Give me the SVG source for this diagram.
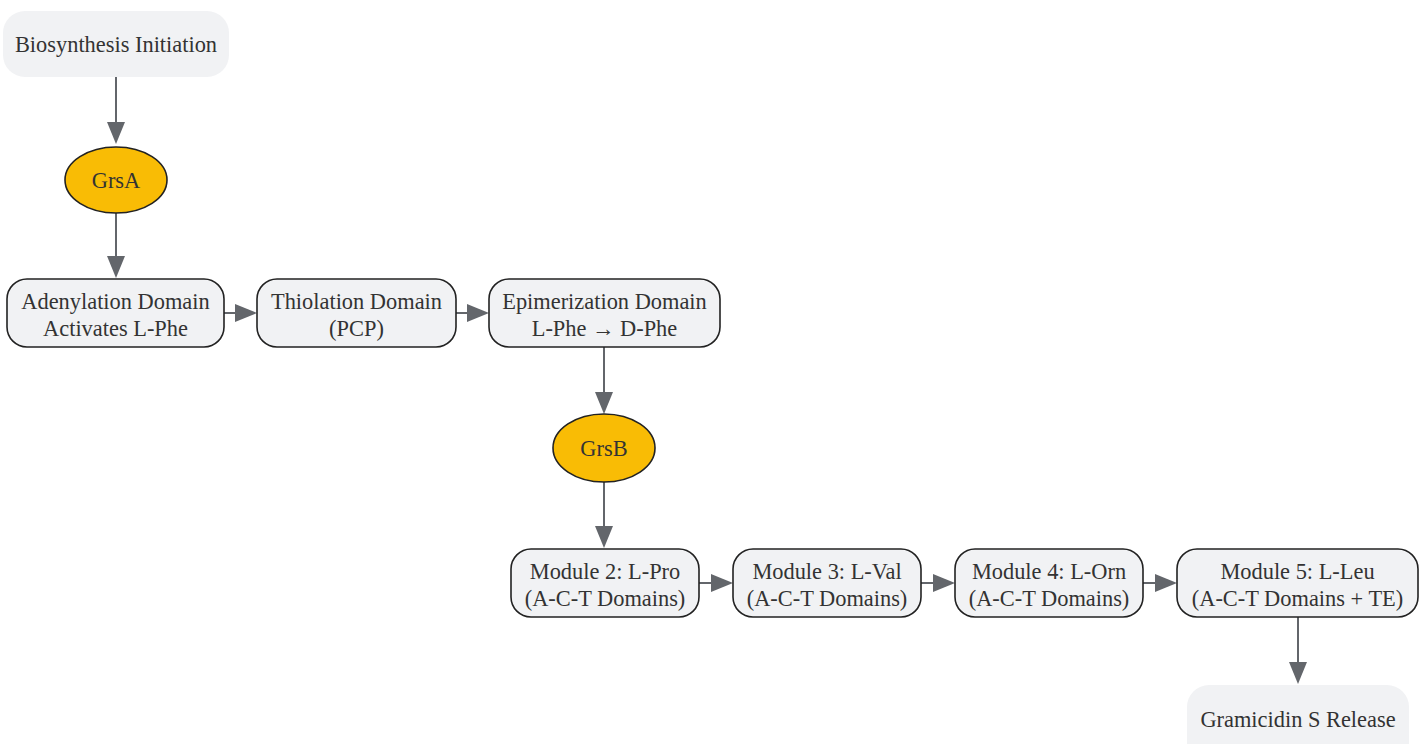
<svg xmlns="http://www.w3.org/2000/svg" width="1426" height="744" viewBox="0 0 1426 744">
<style>
.box{fill:#f1f2f4;stroke:#222;stroke-width:1.6}
.term{fill:#f1f2f4;stroke:none}
.enz{fill:#f9bc05;stroke:#222;stroke-width:1.6}
.lbl{font-family:"Liberation Serif","Times New Roman",serif;font-size:22.4px;fill:#333;text-anchor:middle}
.edge{stroke:#63666b;stroke-width:2;fill:none}
.head{fill:#63666b}
</style>
<rect width="1426" height="744" fill="#fff"/>
<g id="edges">
<path class="edge" d="M116,77 V124"/>
<path class="head" d="M107,122 L125,122 L116,144 z"/>
<path class="edge" d="M116,213 V258"/>
<path class="head" d="M107,256 L125,256 L116,278 z"/>
<path class="edge" d="M224,313 H237"/>
<path class="head" d="M235,304 L235,322 L257,313 z"/>
<path class="edge" d="M456,313 H469"/>
<path class="head" d="M467,304 L467,322 L489,313 z"/>
<path class="edge" d="M604,347 V394"/>
<path class="head" d="M595,392 L613,392 L604,414 z"/>
<path class="edge" d="M604,482 V528"/>
<path class="head" d="M595,526 L613,526 L604,548 z"/>
<path class="edge" d="M699,583 H713"/>
<path class="head" d="M711,574 L711,592 L733,583 z"/>
<path class="edge" d="M921,583 H935"/>
<path class="head" d="M933,574 L933,592 L955,583 z"/>
<path class="edge" d="M1143,583 H1157"/>
<path class="head" d="M1155,574 L1155,592 L1177,583 z"/>
<path class="edge" d="M1298,617 V664"/>
<path class="head" d="M1289,662 L1307,662 L1298,684 z"/>
</g>
<g id="start">
<rect class="term" x="3" y="11" width="226" height="66" rx="22"/>
<text class="lbl" x="116" y="52">Biosynthesis Initiation</text>
</g>
<g id="grsA">
<ellipse class="enz" cx="116" cy="180" rx="51" ry="33"/>
<text class="lbl" x="116" y="188">GrsA</text>
</g>
<g id="adenylation">
<rect class="box" x="7" y="279" width="217" height="68" rx="20"/>
<text class="lbl" x="115.5" y="309">Adenylation Domain</text>
<text class="lbl" x="115.5" y="336">Activates L-Phe</text>
</g>
<g id="thiolation">
<rect class="box" x="257" y="279" width="199" height="68" rx="20"/>
<text class="lbl" x="356.5" y="309">Thiolation Domain</text>
<text class="lbl" x="356.5" y="336">(PCP)</text>
</g>
<g id="epimerization">
<rect class="box" x="489" y="279" width="231" height="68" rx="20"/>
<text class="lbl" x="604.5" y="309">Epimerization Domain</text>
<text class="lbl" x="604.5" y="336">L-Phe → D-Phe</text>
</g>
<g id="grsB">
<ellipse class="enz" cx="604" cy="448" rx="51" ry="34"/>
<text class="lbl" x="604" y="456">GrsB</text>
</g>
<g id="module2">
<rect class="box" x="511" y="549" width="188" height="68" rx="20"/>
<text class="lbl" x="605" y="579">Module 2: L-Pro</text>
<text class="lbl" x="605" y="606">(A-C-T Domains)</text>
</g>
<g id="module3">
<rect class="box" x="733" y="549" width="188" height="68" rx="20"/>
<text class="lbl" x="827" y="579">Module 3: L-Val</text>
<text class="lbl" x="827" y="606">(A-C-T Domains)</text>
</g>
<g id="module4">
<rect class="box" x="955" y="549" width="188" height="68" rx="20"/>
<text class="lbl" x="1049" y="579">Module 4: L-Orn</text>
<text class="lbl" x="1049" y="606">(A-C-T Domains)</text>
</g>
<g id="module5">
<rect class="box" x="1177" y="549" width="241" height="68" rx="20"/>
<text class="lbl" x="1297.5" y="579">Module 5: L-Leu</text>
<text class="lbl" x="1297.5" y="606">(A-C-T Domains + TE)</text>
</g>
<g id="release">
<rect class="term" x="1187" y="685" width="222" height="80" rx="22"/>
<text class="lbl" x="1298" y="727">Gramicidin S Release</text>
</g>
</svg>
